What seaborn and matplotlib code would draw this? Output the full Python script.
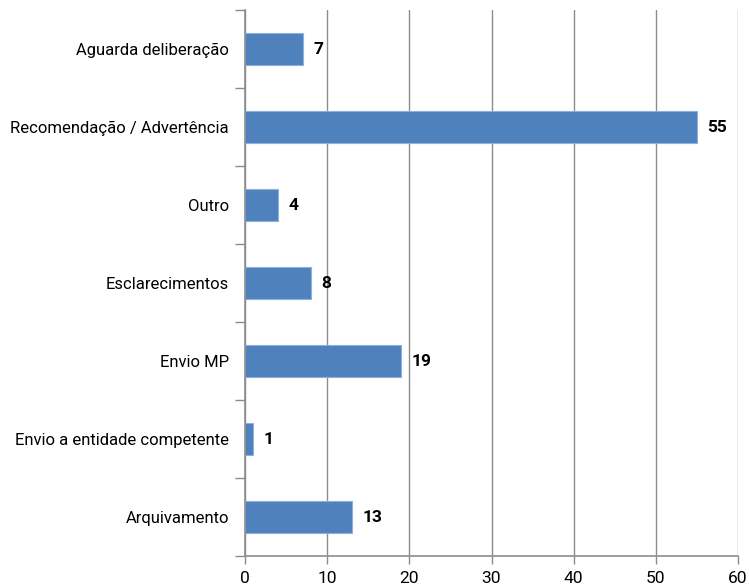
import matplotlib
matplotlib.use("Agg")
import matplotlib.pyplot as plt
import seaborn as sns
import pandas as pd
import numpy as np

categories = ["Aguarda deliberação", "Recomendação / Advertência", "Outro",
              "Esclarecimentos", "Envio MP", "Envio a entidade competente", "Arquivamento"]
values = [7, 55, 4, 8, 19, 1, 13]
x_ticks = [0, 10, 20, 30, 40, 50, 60]

sns.set_theme(style="white")
plt.rcParams['font.family'] = ['Roboto', 'DejaVu Sans']

df = pd.DataFrame({"cat": categories, "val": values})

fig = plt.figure(figsize=(7.49, 5.86), dpi=100)
ax = fig.add_axes([245/749, 30/586, (738-245)/749, 546/586])

sns.barplot(data=df, y="cat", x="val", orient="h", color="#4F81BD",
            width=0.41, edgecolor="#8EB0DC", linewidth=0.8, saturation=1, ax=ax)

ax.set_xlim(0, 60)
ax.set_ylim(len(categories) - 0.5, -0.5)
ax.set_xticks(x_ticks)
ax.set_xticklabels([str(t) for t in x_ticks], fontsize=12.5)
ax.xaxis.grid(True, color="#8C8C8C", linewidth=1.0)
ax.set_axisbelow(True)
ax.set_xlabel("")
ax.set_ylabel("")

for sp in ["top", "right"]:
    ax.spines[sp].set_visible(False)
for sp in ["left", "bottom"]:
    ax.spines[sp].set_color("#8C8C8C")
    ax.spines[sp].set_linewidth(1.2)

ax.tick_params(axis="x", which="major", length=6, width=1, color="#8C8C8C",
               direction="out", bottom=True, pad=5, labelcolor="black")
ax.tick_params(axis="y", which="major", length=0, pad=11.5, labelsize=12, labelcolor="black")
ax.set_yticks(np.arange(-0.5, len(categories), 1), minor=True)
ax.tick_params(axis="y", which="minor", length=7, width=1, color="#8C8C8C", left=True, direction="out")

for i, v in enumerate(values):
    ax.text(v + 1.3, i, str(v), va="center", ha="left", fontsize=12.5,
            fontweight="bold", color="black")

fig.savefig("out.png", dpi=100)
